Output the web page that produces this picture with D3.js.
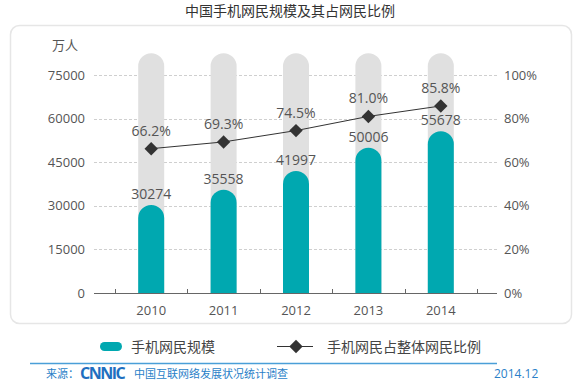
<!DOCTYPE html>
<html lang="zh">
  <head>
    <meta charset="UTF-8" />
    <title>中国手机网民规模及其占网民比例</title>
    <script src="https://d3js.org/d3.v7.min.js"></script>
    <style>
      body {
        margin: 0;
        background: #fff;
      }
      svg text {
        font-family: "Open Sans", "Noto Sans CJK SC", sans-serif;
      }
      .cjk {
        font-family: "Noto Sans CJK SC", sans-serif;
      }
    </style>
  </head>
  <body>
    <div id="chart"></div>

    <script>
      const years = ["2010", "2011", "2012", "2013", "2014"];
      const users = [30274, 35558, 41997, 50006, 55678];
      const ratio = [66.2, 69.3, 74.5, 81.0, 85.8];
      const leftTicks = [0, 15000, 30000, 45000, 60000, 75000];
      const rightTicks = [0, 20, 40, 60, 80, 100];
      const trackTop = 82500; // grey background columns

      const width = 580,
        height = 384;
      const teal = "#00a8b0";

      const svg = d3
        .select("#chart")
        .append("svg")
        .attr("width", width)
        .attr("height", height);

      // title
      svg
        .append("text")
        .attr("class", "cjk")
        .attr("x", 290)
        .attr("y", 16)
        .attr("text-anchor", "middle")
        .attr("font-size", 14)
        .attr("fill", "#333")
        .text("中国手机网民规模及其占网民比例");

      // card
      svg
        .append("rect")
        .attr("x", 10.5)
        .attr("y", 25.5)
        .attr("width", 561)
        .attr("height", 298)
        .attr("rx", 9)
        .attr("fill", "#fff")
        .attr("stroke", "#e6e6e6")
        .attr("stroke-width", 1.5);

      const x = d3.scaleBand().domain(years).range([115, 477]).padding(0);
      const y = d3.scaleLinear().domain([0, 75000]).range([293, 75]);
      const y2 = d3.scaleLinear().domain([0, 100]).range([293, 75]);
      const barW = 26;

      // unit
      svg
        .append("text")
        .attr("class", "cjk")
        .attr("x", 52)
        .attr("y", 50)
        .attr("font-size", 13)
        .attr("fill", "#555")
        .text("万人");

      // grid
      svg
        .append("g")
        .selectAll("line")
        .data(leftTicks.filter((d) => d > 0))
        .join("line")
        .attr("x1", 94)
        .attr("x2", 497)
        .attr("y1", (d) => Math.round(y(d)) + 0.5)
        .attr("y2", (d) => Math.round(y(d)) + 0.5)
        .attr("stroke", "#cfcfcf")
        .attr("stroke-dasharray", "3,2");

      // left axis labels
      svg
        .append("g")
        .selectAll("text")
        .data(leftTicks)
        .join("text")
        .attr("x", 85)
        .attr("y", (d) => y(d))
        .attr("dy", "0.35em")
        .attr("text-anchor", "end")
        .attr("font-size", 13)
        .attr("fill", "#555")
        .text((d) => d);

      // right axis labels
      svg
        .append("g")
        .selectAll("text")
        .data(rightTicks)
        .join("text")
        .attr("x", 504)
        .attr("y", (d) => y2(d))
        .attr("dy", "0.35em")
        .attr("font-size", 13)
        .attr("fill", "#555")
        .text((d) => d + "%");

      // rounded-top column path
      function column(cx, top, bottom, w) {
        const r = w / 2;
        return `M${cx - r},${bottom}V${top + r}A${r},${r} 0 0 1 ${cx + r},${top + r}V${bottom}Z`;
      }

      const cols = svg.append("g");
      cols
        .selectAll("path.track")
        .data(years)
        .join("path")
        .attr("class", "track")
        .attr("d", (d) => column(x(d) + x.bandwidth() / 2, y(trackTop), y(0), barW))
        .attr("fill", "#e0e0e0");

      cols
        .selectAll("path.bar")
        .data(users)
        .join("path")
        .attr("class", "bar")
        .attr("d", (d, i) => column(x(years[i]) + x.bandwidth() / 2, y(d), y(0), barW))
        .attr("fill", teal);

      // bar values
      svg
        .append("g")
        .selectAll("text")
        .data(users)
        .join("text")
        .attr("x", (d, i) => x(years[i]) + x.bandwidth() / 2)
        .attr("y", (d) => y(d) - 6)
        .attr("text-anchor", "middle")
        .attr("font-size", 14)
        .attr("fill", "#555")
        .text((d) => d);

      // x axis
      const xa = svg.append("g");
      xa.append("line")
        .attr("x1", 94)
        .attr("x2", 497)
        .attr("y1", 293.5)
        .attr("y2", 293.5)
        .attr("stroke", "#666");
      xa.selectAll("line.tick")
        .data(years.map((d) => x(d)).concat([x(years[years.length - 1]) + x.bandwidth()]))
        .join("line")
        .attr("class", "tick")
        .attr("x1", (d) => Math.round(d) + 0.5)
        .attr("x2", (d) => Math.round(d) + 0.5)
        .attr("y1", 289)
        .attr("y2", 293)
        .attr("stroke", "#666");
      xa.selectAll("text")
        .data(years)
        .join("text")
        .attr("x", (d) => x(d) + x.bandwidth() / 2)
        .attr("y", 315)
        .attr("text-anchor", "middle")
        .attr("font-size", 13)
        .attr("fill", "#555")
        .text((d) => d);

      // ratio line
      const line = d3
        .line()
        .x((d, i) => x(years[i]) + x.bandwidth() / 2)
        .y((d) => y2(d));
      svg
        .append("path")
        .datum(ratio)
        .attr("d", line)
        .attr("fill", "none")
        .attr("stroke", "#333")
        .attr("stroke-width", 1);

      const diamond = d3.symbol().type(d3.symbolSquare).size(90);
      svg
        .append("g")
        .selectAll("path")
        .data(ratio)
        .join("path")
        .attr("d", diamond)
        .attr(
          "transform",
          (d, i) => `translate(${x(years[i]) + x.bandwidth() / 2},${y2(d)}) rotate(45)`
        )
        .attr("fill", "#333");

      svg
        .append("g")
        .selectAll("text")
        .data(ratio)
        .join("text")
        .attr("x", (d, i) => x(years[i]) + x.bandwidth() / 2)
        .attr("y", (d) => y2(d) - 13)
        .attr("text-anchor", "middle")
        .attr("font-size", 14)
        .attr("fill", "#555")
        .text((d) => d.toFixed(1) + "%");

      // legend
      const lg = svg.append("g");
      lg.append("rect")
        .attr("x", 100)
        .attr("y", 342)
        .attr("width", 22)
        .attr("height", 9)
        .attr("rx", 4.5)
        .attr("fill", teal);
      lg.append("text")
        .attr("class", "cjk")
        .attr("x", 131)
        .attr("y", 352)
        .attr("font-size", 14)
        .attr("fill", "#444")
        .text("手机网民规模");
      lg.append("line")
        .attr("x1", 277)
        .attr("x2", 313)
        .attr("y1", 346.5)
        .attr("y2", 346.5)
        .attr("stroke", "#333");
      lg.append("path")
        .attr("d", diamond)
        .attr("transform", "translate(296,346.5) rotate(45)")
        .attr("fill", "#333");
      lg.append("text")
        .attr("class", "cjk")
        .attr("x", 327)
        .attr("y", 352)
        .attr("font-size", 14)
        .attr("fill", "#444")
        .text("手机网民占整体网民比例");

      // footer
      const ft = svg.append("g");
      ft.append("line")
        .attr("x1", 30)
        .attr("x2", 497)
        .attr("y1", 363.5)
        .attr("y2", 363.5)
        .attr("stroke", "#4a9fd8")
        .attr("stroke-width", 1.5);
      ft.append("text")
        .attr("class", "cjk")
        .attr("x", 46)
        .attr("y", 378)
        .attr("font-size", 11)
        .attr("fill", "#2a7fc8")
        .text("来源：");
      ft.append("text")
        .attr("x", 80)
        .attr("y", 379)
        .attr("font-size", 16)
        .attr("font-weight", "bold")
        .attr("letter-spacing", -1.5)
        .attr("fill", "#1f6fc0")
        .text("CNNIC");
      ft.append("text")
        .attr("class", "cjk")
        .attr("x", 134)
        .attr("y", 378)
        .attr("font-size", 11)
        .attr("fill", "#2a7fc8")
        .text("中国互联网络发展状况统计调查");
      ft.append("text")
        .attr("x", 494)
        .attr("y", 378)
        .attr("font-size", 12)
        .attr("fill", "#2a7fc8")
        .text("2014.12");
    </script>
  </body>
</html>
